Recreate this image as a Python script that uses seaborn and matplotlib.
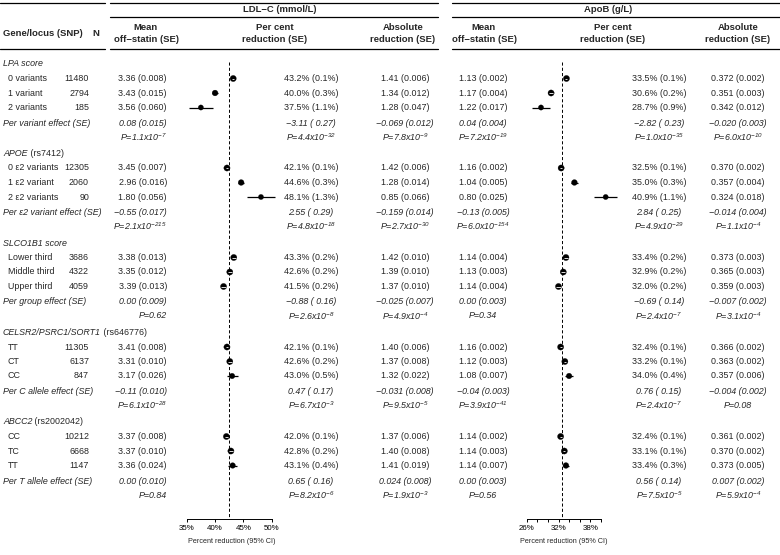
import numpy as np
import pandas as pd
import matplotlib
matplotlib.use("Agg")
import matplotlib.pyplot as plt
import seaborn as sns

# ---------------- data ----------------
group_italic = ["LPA score", "APOE", "SLCO1B1 score", "CELSR2/PSRC1/SORT1", "ABCC2"]
group_plain = ["", " (rs7412)", "", " (rs646776)", " (rs2002042)"]
row_labels = ["0 variants", "1 variant", "2 variants",
              "0 \u03b52 variants", "1 \u03b52 variant", "2 \u03b52 variants",
              "Lower third", "Middle third", "Upper third",
              "TT", "CT", "CC",
              "CC", "TC", "TT"]
n_values = [11480, 2794, 185, 12305, 2060, 90, 3686, 4322, 4059,
            11305, 6137, 847, 10212, 6668, 1147]
effect_labels = ["Per variant effect (SE)", "Per \u03b52 variant effect (SE)",
                 "Per group effect (SE)", "Per C allele effect (SE)",
                 "Per T allele effect (SE)"]

ldl_mean = [3.36, 3.43, 3.56, 3.45, 2.96, 1.80, 3.38, 3.35, 3.39, 3.41, 3.31, 3.17, 3.37, 3.37, 3.36]
ldl_mean_se = [0.008, 0.015, 0.060, 0.007, 0.016, 0.056, 0.013, 0.012, 0.013, 0.008, 0.010, 0.026, 0.008, 0.010, 0.024]
ldl_pct = [43.2, 40.0, 37.5, 42.1, 44.6, 48.1, 43.3, 42.6, 41.5, 42.1, 42.6, 43.0, 42.0, 42.8, 43.1]
ldl_pct_se = [0.1, 0.3, 1.1, 0.1, 0.3, 1.3, 0.2, 0.2, 0.2, 0.1, 0.2, 0.5, 0.1, 0.2, 0.4]
ldl_abs = [1.41, 1.34, 1.28, 1.42, 1.28, 0.85, 1.42, 1.39, 1.37, 1.40, 1.37, 1.32, 1.37, 1.40, 1.41]
ldl_abs_se = [0.006, 0.012, 0.047, 0.006, 0.014, 0.066, 0.010, 0.010, 0.010, 0.006, 0.008, 0.022, 0.006, 0.008, 0.019]

apob_mean = [1.13, 1.17, 1.22, 1.16, 1.04, 0.80, 1.14, 1.13, 1.14, 1.16, 1.12, 1.08, 1.14, 1.14, 1.14]
apob_mean_se = [0.002, 0.004, 0.017, 0.002, 0.005, 0.025, 0.004, 0.003, 0.004, 0.002, 0.003, 0.007, 0.002, 0.003, 0.007]
apob_pct = [33.5, 30.6, 28.7, 32.5, 35.0, 40.9, 33.4, 32.9, 32.0, 32.4, 33.2, 34.0, 32.4, 33.1, 33.4]
apob_pct_se = [0.1, 0.2, 0.9, 0.1, 0.3, 1.1, 0.2, 0.2, 0.2, 0.1, 0.1, 0.4, 0.1, 0.1, 0.3]
apob_abs = [0.372, 0.351, 0.342, 0.370, 0.357, 0.324, 0.373, 0.365, 0.359, 0.366, 0.363, 0.357, 0.361, 0.370, 0.373]
apob_abs_se = [0.002, 0.003, 0.012, 0.002, 0.004, 0.018, 0.003, 0.003, 0.003, 0.002, 0.002, 0.006, 0.002, 0.002, 0.005]

ldl_eff_mean = [0.08, -0.55, 0.00, -0.11, 0.00]
ldl_eff_mean_se = [0.015, 0.017, 0.009, 0.010, 0.010]
ldl_eff_mean_p = ["1.1x10^-7", "2.1x10^-215", "0.62", "6.1x10^-28", "0.84"]
ldl_eff_pct = [-3.11, 2.55, -0.88, 0.47, 0.65]
ldl_eff_pct_se = [0.27, 0.29, 0.16, 0.17, 0.16]
ldl_eff_pct_p = ["4.4x10^-32", "4.8x10^-18", "2.6x10^-8", "6.7x10^-3", "8.2x10^-6"]
ldl_eff_abs = [-0.069, -0.159, -0.025, -0.031, 0.024]
ldl_eff_abs_se = [0.012, 0.014, 0.007, 0.008, 0.008]
ldl_eff_abs_p = ["7.8x10^-9", "2.7x10^-30", "4.9x10^-4", "9.5x10^-5", "1.9x10^-3"]

apob_eff_mean = [0.04, -0.13, 0.00, -0.04, 0.00]
apob_eff_mean_se = [0.004, 0.005, 0.003, 0.003, 0.003]
apob_eff_mean_p = ["7.2x10^-19", "6.0x10^-154", "0.34", "3.9x10^-41", "0.56"]
apob_eff_pct = [-2.82, 2.84, -0.69, 0.76, 0.56]
apob_eff_pct_se = [0.23, 0.25, 0.14, 0.15, 0.14]
apob_eff_pct_p = ["1.0x10^-35", "4.9x10^-29", "2.4x10^-7", "2.4x10^-7", "7.5x10^-5"]
apob_eff_abs = [-0.020, -0.014, -0.007, -0.004, 0.007]
apob_eff_abs_se = [0.003, 0.004, 0.002, 0.002, 0.002]
apob_eff_abs_p = ["6.0x10^-10", "1.1x10^-4", "3.1x10^-4", "0.08", "5.9x10^-4"]

ldl_ref = 42.4
apob_ref = 32.7
ldl_ticks = [35, 40, 45, 50]
apob_ticks = [26, 28, 30, 32, 34, 36, 38, 40]
apob_tick_labels = ["26%", "", "", "32%", "", "", "38%", ""]

# ---------------- style ----------------
sns.set_theme(style="white")
plt.rcParams["font.family"] = ["Liberation Sans", "DejaVu Sans"]
plt.rcParams["mathtext.fontset"] = "custom"
plt.rcParams["mathtext.rm"] = "Liberation Sans:italic"
plt.rcParams["mathtext.it"] = "Liberation Sans:italic"
plt.rcParams["mathtext.bf"] = "Liberation Sans:bold"

W, H = 780, 555
fig = plt.figure(figsize=(W / 100, H / 100), dpi=100)
bg = fig.add_axes([0, 0, 1, 1])
bg.set_xlim(0, W)
bg.set_ylim(H, 0)
bg.axis("off")

FS = 6.4
HFS = 6.8

def neg(s):
    return s.replace("-", "\u2212")

def fmt_p(p):
    if "^" in p:
        m, e = p.split("^")
        return "P=" + m + "$^{" + e + "}$"
    return "P=" + p

# ---------------- layout (pixels) ----------------
g_y, row_y, eff_y, p_y = [], [], [], []
y = 64.0
for g in range(5):
    g_y.append(y)
    row_y += [y + 14.5, y + 29.0, y + 43.5]
    eff_y.append(y + 59.0)
    p_y.append(y + 73.0)
    y += 89.5

# header lines
line_kw = dict(color="black", lw=0.9)
for x0, x1 in [(0, 105), (110, 438), (452, 780)]:
    bg.plot([x0, x1], [3, 3], **line_kw)
    bg.plot([x0, x1], [49, 49], **line_kw)
for x0, x1 in [(110, 438), (452, 780)]:
    bg.plot([x0, x1], [17, 17], **line_kw)

bg.text(3, 33, "Gene/locus (SNP)", fontsize=HFS, fontweight="bold", va="center", ha="left")
bg.text(96, 33, "N", fontsize=HFS, fontweight="bold", va="center", ha="center")
bg.text(280, 10, "LDL\u2212C (mmol/L)", fontsize=HFS, fontweight="bold", va="center", ha="center")
bg.text(608, 10, "ApoB (g/L)", fontsize=HFS, fontweight="bold", va="center", ha="center")
headers = [(146, "Mean", "off\u2212statin (SE)"), (275, "Per cent", "reduction (SE)"),
           (403, "Absolute", "reduction (SE)"), (484, "Mean", "off\u2212statin (SE)"),
           (613, "Per cent", "reduction (SE)"), (738, "Absolute", "reduction (SE)")]
for x, l1, l2 in headers:
    bg.text(x, 28, l1, fontsize=HFS, fontweight="bold", va="center", ha="center")
    bg.text(x, 39.5, l2, fontsize=HFS, fontweight="bold", va="center", ha="center")

renderer = fig.canvas.get_renderer()
for g in range(5):
    t = bg.text(3, g_y[g], group_italic[g], fontsize=FS, style="italic", va="center", ha="left")
    if group_plain[g]:
        bb = t.get_window_extent(renderer=renderer)
        bg.text(bb.x1, g_y[g], group_plain[g], fontsize=FS, va="center", ha="left")
    bg.text(3, eff_y[g], effect_labels[g], fontsize=FS, style="italic", va="center", ha="left")

for i in range(15):
    bg.text(8, row_y[i], row_labels[i], fontsize=FS, va="center", ha="left")
    bg.text(89, row_y[i], str(n_values[i]), fontsize=FS, va="center", ha="right")

cols = [
    (167, "right", [neg(f"{m:.2f}") + f" ({s:.3f})" for m, s in zip(ldl_mean, ldl_mean_se)],
     [neg(f"{e:.2f}") + f" ({s:.3f})" for e, s in zip(ldl_eff_mean, ldl_eff_mean_se)], ldl_eff_mean_p),
    (311, "center", [f"{m:.1f}% ({s:.1f}%)" for m, s in zip(ldl_pct, ldl_pct_se)],
     [neg(f"{e:.2f}") + f" ( {s:.2f})" for e, s in zip(ldl_eff_pct, ldl_eff_pct_se)], ldl_eff_pct_p),
    (405, "center", [f"{m:.2f} ({s:.3f})" for m, s in zip(ldl_abs, ldl_abs_se)],
     [neg(f"{e:.3f}") + f" ({s:.3f})" for e, s in zip(ldl_eff_abs, ldl_eff_abs_se)], ldl_eff_abs_p),
    (483, "center", [f"{m:.2f} ({s:.3f})" for m, s in zip(apob_mean, apob_mean_se)],
     [neg(f"{e:.2f}") + f" ({s:.3f})" for e, s in zip(apob_eff_mean, apob_eff_mean_se)], apob_eff_mean_p),
    (659, "center", [f"{m:.1f}% ({s:.1f}%)" for m, s in zip(apob_pct, apob_pct_se)],
     [neg(f"{e:.2f}") + f" ( {s:.2f})" for e, s in zip(apob_eff_pct, apob_eff_pct_se)], apob_eff_pct_p),
    (738, "center", [f"{m:.3f} ({s:.3f})" for m, s in zip(apob_abs, apob_abs_se)],
     [neg(f"{e:.3f}") + f" ({s:.3f})" for e, s in zip(apob_eff_abs, apob_eff_abs_se)], apob_eff_abs_p),
]
for x, ha, vals, effs, ps in cols:
    for i in range(15):
        bg.text(x, row_y[i], vals[i], fontsize=FS, va="center", ha=ha)
    for g in range(5):
        bg.text(x, eff_y[g], effs[g], fontsize=FS, style="italic", va="center", ha=ha)
        bg.text(x, p_y[g], fmt_p(ps[g]), fontsize=FS, style="italic", va="center", ha=ha)

# ---------------- forest panels ----------------
Y_TOP, Y_AX = 50.0, 519.0

def forest(px0, ppx, xlim, pct, se, ref, ticks, ticklabels):
    left = px0 - (ticks[0] - xlim[0]) * ppx
    width = (xlim[1] - xlim[0]) * ppx
    ax = fig.add_axes([left / W, (H - Y_AX) / H, width / W, (Y_AX - Y_TOP) / H])
    ax.patch.set_alpha(0)
    ax.set_xlim(*xlim)
    ax.set_ylim(Y_AX, Y_TOP)
    df = pd.DataFrame({"pct": pct, "se": se, "y": row_y})
    df["lo"] = df["pct"] - 1.96 * df["se"]
    df["hi"] = df["pct"] + 1.96 * df["se"]
    d_px = 5.0 + 1.2 * np.minimum(1.0 / df["se"], 5.0) / 5.0
    df["msize"] = (d_px * 0.72) ** 2
    ax.vlines(ref, 62, Y_AX, colors="black", lw=0.7, linestyles=(0, (3.2, 2.2)), zorder=1)
    ax.hlines(df["y"], df["lo"], df["hi"], colors="black", lw=0.9, zorder=2)
    sns.scatterplot(data=df, x="pct", y="y", size="msize",
                    sizes=(df["msize"].min(), df["msize"].max()),
                    size_norm=(df["msize"].min(), df["msize"].max()),
                    color="black", edgecolor="black", linewidth=0.2,
                    legend=False, ax=ax, zorder=3)
    small = (1.96 * df["se"] * ppx) < d_px / 2
    ds = df[small]
    ax.hlines(ds["y"], ds["lo"], ds["hi"], colors="white", lw=0.6, zorder=4)
    for s in ["top", "left", "right"]:
        ax.spines[s].set_visible(False)
    ax.spines["bottom"].set_bounds(ticks[0], ticks[-1])
    ax.spines["bottom"].set_linewidth(0.7)
    ax.spines["bottom"].set_color("black")
    ax.set_yticks([])
    ax.set_xticks(ticks)
    ax.set_xticklabels(ticklabels, fontsize=5.7)
    ax.tick_params(axis="x", direction="out", length=2.4, width=0.7, pad=2, colors="black", bottom=True)
    ax.set_xlabel("Percent reduction (95% CI)", fontsize=5.2, labelpad=4)
    ax.set_ylabel("")
    return ax

forest(186.7, 5.67, (30, 56), ldl_pct, ldl_pct_se, ldl_ref, ldl_ticks, [f"{t}%" for t in ldl_ticks])
forest(526.7, 5.3, (20, 46), apob_pct, apob_pct_se, apob_ref, apob_ticks, apob_tick_labels)

fig.savefig("out.png", dpi=100)
